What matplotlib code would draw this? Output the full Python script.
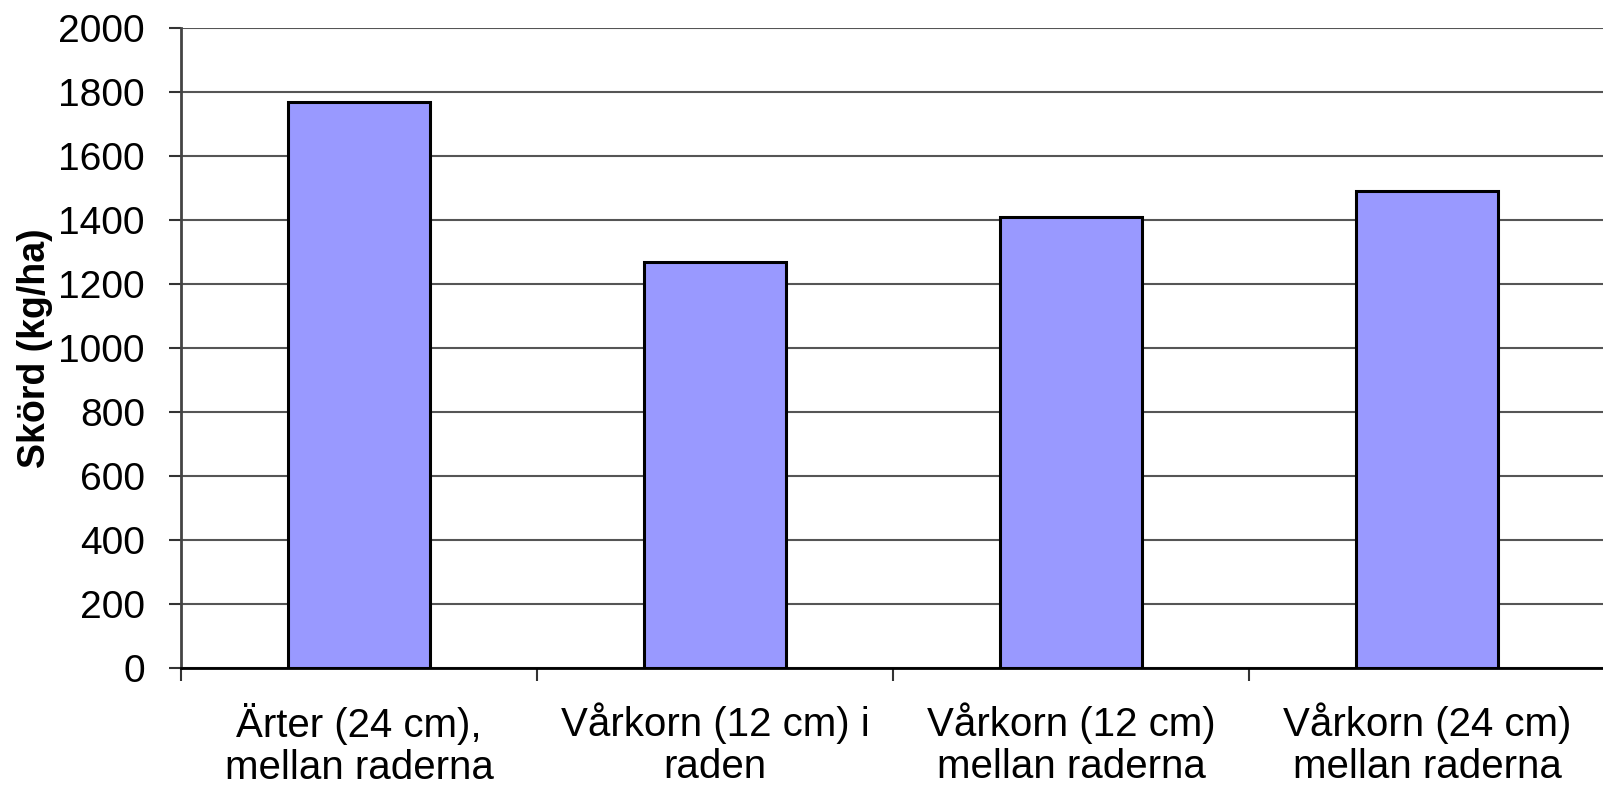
import numpy as np
import matplotlib
matplotlib.use("Agg")
import matplotlib.pyplot as plt

plt.rcParams["font.family"] = ["Liberation Sans", "DejaVu Sans"]

CATEGORIES = [
    "Ärter (24 cm),\nmellan raderna",
    "Vårkorn (12 cm) i\nraden",
    "Vårkorn (12 cm)\nmellan raderna",
    "Vårkorn (24 cm)\nmellan raderna",
]
YIELD = [1770, 1270, 1408, 1490]
Y_TICKS = list(range(0, 2001, 200))

BAR_COLOR = "#9999FF"


def main():
    fig = plt.figure(figsize=(16.03, 7.90), dpi=100)
    # axes run off the right edge, like the original export
    ax = fig.add_axes([181 / 1603, 122 / 790, 1424 / 1603, 640 / 790])

    x = np.arange(len(CATEGORIES))
    ax.bar(x, YIELD, width=0.4, color=BAR_COLOR, edgecolor="black",
           linewidth=2.2, zorder=3)

    ax.set_xlim(-0.5, len(CATEGORIES) - 0.5)
    ax.set_ylim(0, 2000)
    ax.set_yticks(Y_TICKS)
    ax.yaxis.grid(True, color="#555555", linewidth=1.5, zorder=0)
    ax.set_axisbelow(True)

    # ticks at category boundaries, labels centred under bars
    ax.set_xticks(np.arange(-0.5, len(CATEGORIES)), labels=[])
    ax.set_xticks(x, labels=CATEGORIES, minor=True)
    ax.tick_params(axis="x", which="major", direction="out", length=9,
                   width=1.5, color="#333333")
    ax.tick_params(axis="x", which="minor", length=0, pad=25, labelsize=29)
    for lbl in ax.get_xticklabels(minor=True):
        lbl.set_linespacing(1.13)
    ax.tick_params(axis="y", direction="out", length=9, width=1.5,
                   color="#333333", pad=17, labelsize=28)

    for side in ("top", "right"):
        ax.spines[side].set_visible(False)
    ax.spines["left"].set_color("#444444")
    ax.spines["left"].set_linewidth(2)
    ax.spines["bottom"].set_color("black")
    ax.spines["bottom"].set_linewidth(2)

    ax.set_ylabel("Skörd (kg/ha)", fontsize=27, fontweight="bold")
    ax.yaxis.set_label_coords(-0.09, 0.5)

    fig.savefig("out.png", dpi=100)


if __name__ == "__main__":
    main()
